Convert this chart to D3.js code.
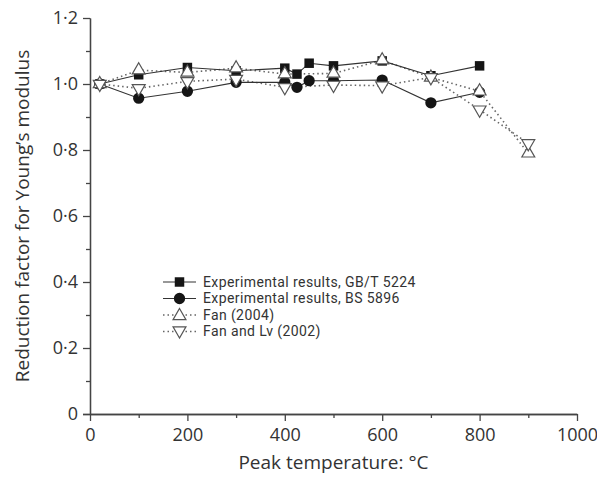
<!DOCTYPE html>
<html>
<head>
<meta charset="utf-8">
<script src="https://cdn.jsdelivr.net/npm/d3@7"></script>
<style>
  html, body { margin: 0; padding: 0; background: #fff; }
  svg { display: block; }
  text { font-family: "Open Sans", "Noto Sans", sans-serif; fill: #333; }
  .legend text { font-family: Roboto, "Open Sans", sans-serif; letter-spacing: 0.4px; }
</style>
</head>
<body>
<svg id="chart" width="597" height="483"></svg>
<script>
// Peak temperatures (°C) and reduction factors for Young's modulus
const tempGB = [20, 100, 200, 300, 400, 425, 450, 500, 600, 700, 800];
const gbt5224 = [1.0, 1.028, 1.05, 1.04, 1.048, 1.03, 1.063, 1.055, 1.07, 1.025, 1.055];

const tempBS = [20, 100, 200, 300, 400, 425, 450, 500, 600, 700, 800];
const bs5896 = [1.0, 0.957, 0.978, 1.005, 1.005, 0.99, 1.01, 1.01, 1.012, 0.943, 0.975];

const tempFan = [20, 100, 200, 300, 400, 500, 600, 700, 800, 900];
const fan2004 = [1.0, 1.042, 1.035, 1.048, 1.03, 1.032, 1.072, 1.02, 0.978, 0.79];

const tempFanLv = [20, 100, 200, 300, 400, 500, 600, 700, 800, 900];
const fanLv2002 = [1.0, 0.987, 1.008, 1.015, 0.99, 0.997, 0.995, 1.02, 0.922, 0.82];

const xTicks = [0, 200, 400, 600, 800, 1000];
const yTicks = [0, 0.2, 0.4, 0.6, 0.8, 1.0, 1.2];

const seriesNames = [
  "Experimental results, GB/T 5224",
  "Experimental results, BS 5896",
  "Fan (2004)",
  "Fan and Lv (2002)"
];

const svg = d3.select("#chart");
const x = d3.scaleLinear().domain([0, 1000]).range([90, 577]);
const y = d3.scaleLinear().domain([0, 1.2]).range([414, 18]);

const fmt = v => v === 0 ? "0" : d3.format(".1f")(v).replace(".", "\u00b7");

// Axes with major (labelled) and minor ticks
const xAxis = svg.append("g").attr("transform", `translate(0,${y(0)})`)
  .call(d3.axisBottom(x).tickValues(xTicks).tickSize(7).tickSizeOuter(0).tickPadding(7).tickFormat(d3.format("d")));
const xMinor = svg.append("g").attr("transform", `translate(0,${y(0)})`)
  .call(d3.axisBottom(x).tickValues(d3.range(100, 1000, 200)).tickSize(4).tickSizeOuter(0).tickFormat(""));
const yAxis = svg.append("g").attr("transform", `translate(${x(0)},0)`)
  .call(d3.axisLeft(y).tickValues(yTicks).tickSize(7).tickSizeOuter(0).tickPadding(5).tickFormat(fmt));
const yMinor = svg.append("g").attr("transform", `translate(${x(0)},0)`)
  .call(d3.axisLeft(y).tickValues(d3.range(0.1, 1.2, 0.2)).tickSize(4).tickSizeOuter(0).tickFormat(""));

[xAxis, xMinor, yAxis, yMinor].forEach(g => {
  g.selectAll("path, line").attr("stroke", "#444").attr("stroke-width", 1.3);
  g.selectAll("text").style("font-size", "18px").attr("fill", "#333");
});
xAxis.select(".domain").attr("d", `M${x(0) - 7},0.5H${x(1000)}`);

// Axis titles
svg.append("text")
  .attr("x", (x(0) + x(1000)) / 2).attr("y", 469)
  .attr("text-anchor", "middle").style("font-size", "19px")
  .text("Peak temperature: \u00b0C");
svg.append("text")
  .attr("transform", `translate(29,${y(0.6)}) rotate(-90)`)
  .attr("text-anchor", "middle").style("font-size", "19px")
  .text("Reduction factor for Young\u2019s modulus");

// Marker shapes
const sym = {
  square: d3.symbol().type(d3.symbolSquare).size(90),
  circle: d3.symbol().type(d3.symbolCircle).size(100),
  triUp: d3.symbol().type(d3.symbolTriangle).size(72),
};

const series = [
  { xs: tempFanLv, ys: fanLv2002, dash: "1.5,3", line: "#666", marker: "triDown" },
  { xs: tempFan, ys: fan2004, dash: "1.5,3", line: "#666", marker: "triUp" },
  { xs: tempBS, ys: bs5896, dash: null, line: "#333", marker: "circle" },
  { xs: tempGB, ys: gbt5224, dash: null, line: "#333", marker: "square" },
];

function drawMarker(g, kind, cx, cy) {
  if (kind === "square" || kind === "circle") {
    g.append("path").attr("d", sym[kind]())
      .attr("transform", `translate(${cx},${cy})`)
      .attr("fill", "#151515").attr("stroke", "none");
  } else {
    const rot = kind === "triDown" ? 180 : 0;
    g.append("path").attr("d", sym.triUp())
      .attr("transform", `translate(${cx},${cy}) rotate(${rot})`)
      .attr("fill", "#fff").attr("stroke", "#555").attr("stroke-width", 1.2);
  }
}

const line = d3.line();
const lineLayer = svg.append("g");
const markLayer = svg.append("g");

// Lines first, then markers on top (open triangles over filled markers)
series.forEach(s => {
  const pts = s.xs.map((t, i) => [x(t), y(s.ys[i])]);
  lineLayer.append("path").attr("d", line(pts))
    .attr("fill", "none").attr("stroke", s.line).attr("stroke-width", s.dash ? 1.6 : 1.1)
    .attr("stroke-dasharray", s.dash);
});
["square", "circle", "triUp", "triDown"].forEach(kind => {
  const s = series.find(d => d.marker === kind);
  s.xs.forEach((t, i) => drawMarker(markLayer, kind, x(t), y(s.ys[i])));
});

// Legend
const legendKinds = ["square", "circle", "triUp", "triDown"];
const legendRows = [282, 298.5, 315, 331.5];
const legend = svg.append("g").attr("class", "legend");
legendKinds.forEach((kind, i) => {
  const ly = legendRows[i];
  const dashed = kind.startsWith("tri");
  legend.append("line")
    .attr("x1", 163).attr("x2", 196).attr("y1", ly).attr("y2", ly)
    .attr("stroke", dashed ? "#666" : "#333").attr("stroke-width", dashed ? 1.6 : 1.1)
    .attr("stroke-dasharray", dashed ? "1.5,3" : null);
  drawMarker(legend, kind, 179.5, ly + (kind === "triUp" ? 1 : kind === "triDown" ? -1 : 0));
  legend.append("text")
    .attr("x", 203).attr("y", ly).attr("dy", "0.35em")
    .style("font-size", "14px").text(seriesNames[i]);
});
</script>
</body>
</html>
